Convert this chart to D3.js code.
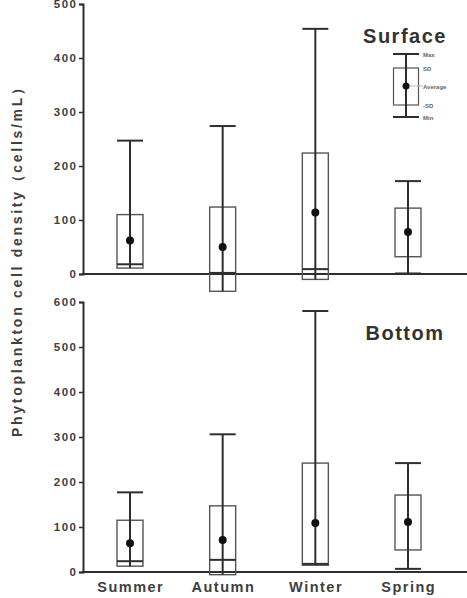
<!DOCTYPE html>
<html><head><meta charset="utf-8">
<script src="https://d3js.org/d3.v7.min.js"></script>
<style>body{margin:0;background:#fff}</style>
</head><body>
<script>
const categories = ["Summer", "Autumn", "Winter", "Spring"];
// Surface panel
const surfaceMax    = [247, 274, 454, 172];
const surfaceSDUp   = [110, 124, 224, 122];
const surfaceMean   = [62, 50, 114, 78];
const surfaceSDDown = [11, -32, -10, 32];
const surfaceMin    = [18, 2, 9, 1];
// Bottom panel
const bottomMax    = [177, 306, 580, 242];
const bottomSDUp   = [115, 147, 242, 171];
const bottomMean   = [64, 71, 109, 111];
const bottomSDDown = [13, -6, 15, 49];
const bottomMin    = [24, 27, 18, 7];
const surfaceTicks = [0, 100, 200, 300, 400, 500];
const bottomTicks  = [0, 100, 200, 300, 400, 500, 600];
const legendLabels = ["Max", "SD", "Average", "-SD", "Min"];

const W = 467, H = 598;
const svg = d3.select("body").append("svg").attr("width", W).attr("height", H);
const ink = "#2e2e2e", boxInk = "#555", txt = "#404040";
const font = "'Liberation Sans', Arial, sans-serif";

const x = d3.scalePoint().domain(categories).range([130, 408]);
const axisLeft = 83, axisRight = 467;
const boxW = 26;

function panel(yRange, domainMax, ticks, maxA, upA, meanA, downA, minA, title, titleY) {
  const y = d3.scaleLinear().domain([0, domainMax]).range(yRange);
  const g = svg.append("g");
  // y axis
  const ax = g.append("g").attr("transform", `translate(${axisLeft},0)`)
    .call(d3.axisLeft(y).tickValues(ticks).tickSize(4).tickPadding(3).tickFormat(d3.format("d")));
  ax.select(".domain").attr("stroke", ink).attr("stroke-width", 2);
  ax.selectAll(".tick line").attr("stroke", ink).attr("stroke-width", 1.5);
  ax.selectAll(".tick text").attr("font-family", font).attr("font-weight", "bold")
    .attr("font-size", 11.5).attr("fill", txt).attr("letter-spacing", 1.5).attr("dx", "1.5");
  // x axis line
  g.append("line").attr("x1", axisLeft - 1).attr("x2", axisRight)
    .attr("y1", y(0)).attr("y2", y(0)).attr("stroke", ink).attr("stroke-width", 2);
  const data = categories.map((c, i) => ({c, max: maxA[i], up: upA[i], mean: meanA[i], down: downA[i], min: minA[i]}));
  const items = g.selectAll("g.item").data(data).join("g").attr("class", "item");
  items.append("rect").attr("x", d => x(d.c) - boxW / 2).attr("width", boxW)
    .attr("y", d => y(d.up)).attr("height", d => y(d.down) - y(d.up))
    .attr("fill", "none").attr("stroke", boxInk).attr("stroke-width", 1.4);
  items.append("line").attr("x1", d => x(d.c)).attr("x2", d => x(d.c))
    .attr("y1", d => y(d.max)).attr("y2", d => y(Math.min(d.min, d.down)))
    .attr("stroke", ink).attr("stroke-width", 2);
  items.append("line").attr("x1", d => x(d.c) - boxW / 2).attr("x2", d => x(d.c) + boxW / 2)
    .attr("y1", d => y(d.max)).attr("y2", d => y(d.max)).attr("stroke", ink).attr("stroke-width", 2);
  items.append("line").attr("x1", d => x(d.c) - boxW / 2).attr("x2", d => x(d.c) + boxW / 2)
    .attr("y1", d => y(d.min)).attr("y2", d => y(d.min)).attr("stroke", ink).attr("stroke-width", 2);
  items.append("circle").attr("cx", d => x(d.c)).attr("cy", d => y(d.mean)).attr("r", 4).attr("fill", "#111");
  g.append("text").attr("x", 405).attr("y", titleY).attr("text-anchor", "middle")
    .attr("font-family", font).attr("font-weight", "bold").attr("font-size", 20)
    .attr("letter-spacing", 1.5).attr("fill", "#333").text(title);
  return y;
}

panel([274, 4], 500, surfaceTicks, surfaceMax, surfaceSDUp, surfaceMean, surfaceSDDown, surfaceMin, "Surface", 43);
panel([572, 302], 600, bottomTicks, bottomMax, bottomSDUp, bottomMean, bottomSDDown, bottomMin, "Bottom", 340);

// x labels
svg.append("g").selectAll("text").data(categories).join("text")
  .attr("x", d => x(d) + 0.75).attr("y", 592).attr("text-anchor", "middle")
  .attr("font-family", font).attr("font-weight", "bold").attr("font-size", 14.5)
  .attr("letter-spacing", 1.5).attr("fill", txt).text(d => d);

// y label
svg.append("text").attr("transform", "translate(22,259) rotate(-90)")
  .attr("text-anchor", "middle").attr("font-family", font).attr("font-weight", "bold")
  .attr("font-size", 14).attr("fill", txt)
  .attr("textLength", 356).attr("lengthAdjust", "spacing")
  .text("Phytoplankton cell density（cells/mL）");

// legend
const lg = svg.append("g").attr("transform", "translate(406,0)");
const ly = [54, 68, 86, 105, 117];
lg.append("rect").attr("x", -12.5).attr("width", 25).attr("y", ly[1]).attr("height", ly[3] - ly[1])
  .attr("fill", "none").attr("stroke", boxInk).attr("stroke-width", 1.2);
lg.append("line").attr("x1", 0).attr("x2", 0).attr("y1", ly[0]).attr("y2", ly[4]).attr("stroke", ink).attr("stroke-width", 2);
[ly[0], ly[4]].forEach(v => lg.append("line").attr("x1", -13).attr("x2", 13).attr("y1", v).attr("y2", v)
  .attr("stroke", ink).attr("stroke-width", 2));
lg.append("line").attr("x1", 0).attr("x2", 17).attr("y1", ly[2]).attr("y2", ly[2]).attr("stroke", "#bbb").attr("stroke-width", 1);
lg.append("circle").attr("cx", 0).attr("cy", ly[2]).attr("r", 3.5).attr("fill", "#111");
lg.selectAll("text.l").data(legendLabels).join("text").attr("class", "l")
  .attr("x", 17).attr("y", (d, i) => ly[i] + 2.5)
  .attr("font-family", font).attr("font-weight", "bold").attr("font-size", 6)
  .attr("fill", "#666").text(d => d);
</script>
</body></html>
